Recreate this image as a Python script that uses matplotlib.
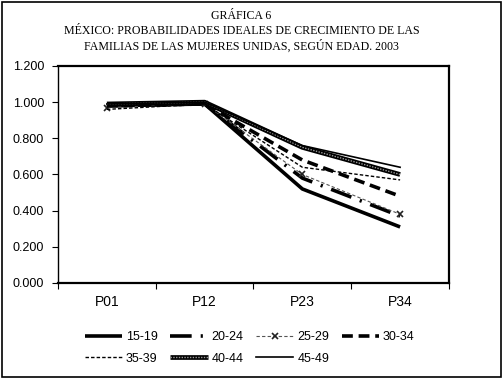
import matplotlib.pyplot as plt
import numpy as np
from matplotlib.patches import Rectangle

# datos
categorias = ['P01', 'P12', 'P23', 'P34']
edades = ['15-19', '20-24', '25-29', '30-34', '35-39', '40-44', '45-49']
g15_19 = [0.98, 0.99, 0.52, 0.31]
g20_24 = [0.98, 0.99, 0.58, 0.37]
g25_29 = [0.97, 0.99, 0.60, 0.38]
g30_34 = [0.98, 0.99, 0.68, 0.48]
g35_39 = [0.96, 0.99, 0.64, 0.57]
g40_44 = [0.99, 1.00, 0.75, 0.60]
g45_49 = [0.99, 1.00, 0.76, 0.64]
yticks = [0.0, 0.2, 0.4, 0.6, 0.8, 1.0, 1.2]

fig = plt.figure(figsize=(5.03, 3.79), dpi=100)
ax = fig.add_axes([0.1153, 0.2533, 0.7773, 0.5726])
x = np.arange(len(categorias))

h1, = ax.plot(x, g15_19, color='black', lw=2.6, solid_capstyle='butt')
h2, = ax.plot(x, g20_24, color='black', lw=2.6, dashes=(6, 2.5, 0.6, 2.5))
h3, = ax.plot(x, g25_29, color='#555555', lw=0.8, dashes=(3, 2),
              marker='x', markersize=4, markeredgewidth=1.2, markeredgecolor='#222222')
h4, = ax.plot(x, g30_34, color='black', lw=2.6, dashes=(3, 1.6))
h5, = ax.plot(x, g35_39, color='black', lw=1.0, dashes=(2.5, 1.5))
h6a, = ax.plot(x, g40_44, color='black', lw=3.4, solid_capstyle='butt')
h6b, = ax.plot(x, g40_44, color='#9a9a9a', lw=1.0, dashes=(1, 1))
h7, = ax.plot(x, g45_49, color='black', lw=1.2)

ax.set_xlim(-0.5, 3.5)
ax.set_ylim(0, 1.2)
ax.set_yticks(yticks)
ax.set_yticklabels(['%.3f' % v for v in yticks], fontfamily='Liberation Sans', fontsize=9)
ax.set_xticks(x)
ax.set_xticklabels(categorias, fontfamily='Liberation Sans', fontsize=10)
ax.set_xticks(np.arange(-0.5, 4, 1), minor=True)
ax.tick_params(axis='x', which='major', length=0, pad=9)
ax.tick_params(axis='x', which='minor', length=4, width=0.8, direction='out')
ax.tick_params(axis='y', length=4, width=0.8, direction='out', pad=6)
for lado in ['bottom', 'right', 'top']:
    ax.spines[lado].set_linewidth(1.6)
ax.spines['left'].set_linewidth(1.0)

# orden para que la leyenda se llene por filas
handles = [h1, h2, h3, h4, h5, (h6a, h6b), h7]
orden = [0, 4, 1, 5, 2, 6, 3]
leg = ax.legend([handles[i] for i in orden], [edades[i] for i in orden],
                loc='upper center', bbox_to_anchor=(0.49, -0.17), ncol=4,
                frameon=False, prop={'family': 'Liberation Sans', 'size': 9},
                handlelength=3.0, handletextpad=0.3, columnspacing=1.0,
                labelspacing=0.75)

# titulo
titulo = ['GRÁFICA 6',
          'MÉXICO: PROBABILIDADES IDEALES DE CRECIMIENTO DE LAS',
          'FAMILIAS DE LAS MUJERES UNIDAS, SEGÚN EDAD. 2003']
for i, t in enumerate(titulo):
    fig.text(0.48, 1 - (16 + 15 * i) / 379, t, ha='center', va='center',
             fontfamily='Liberation Serif', fontsize=8.6)

# marco exterior
fig.patches.append(Rectangle((0.004, 0.005), 0.992, 0.99, transform=fig.transFigure,
                             fill=False, edgecolor='black', lw=1.2))

fig.savefig('out.png', dpi=100)
